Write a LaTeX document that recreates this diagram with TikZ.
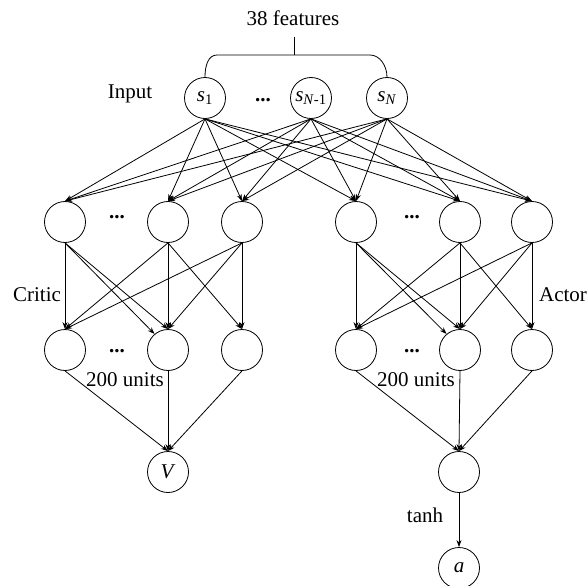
\documentclass[tikz,border=0pt]{standalone}
\usepackage{fontspec}
\setmainfont{Liberation Serif}
\usetikzlibrary{arrows.meta}
\begin{document}
\begin{tikzpicture}[x=1pt,y=-1pt,
  neuron/.style={circle,draw,line width=0.8pt,minimum size=41pt,inner sep=0pt,font=\fontsize{21}{25}\selectfont},
  lbl/.style={inner sep=0pt,font=\fontsize{21}{25}\selectfont},
  conn/.style={line width=0.8pt,-{Stealth[length=7pt,width=5pt]}},
  plain/.style={line width=0.8pt},
  ]
\useasboundingbox (0,0) rectangle (587,586);
% input layer
\node[neuron] (s1) at (205,98) {\textit{s}\textsubscript{1}};
\node[neuron] (sn1) at (311,98) {\textit{s}\textsubscript{\textit{N}-1}};
\node[neuron] (sn) at (387,98) {\textit{s}\textsubscript{\textit{N}}};
\node[lbl] (din) at (263,100) {\textbf{...}};
\node[lbl] (inlbl) at (130,94) {Input};
% brace
\node[lbl] (feat) at (293,18) {38 features};
\coordinate (bt) at (294,37);
\coordinate (bm) at (294,55);
\coordinate (bl) at (217,55);
\coordinate (br) at (370,55);
\draw[plain] (bt) -- (bm);
\draw[plain] (s1.north) .. controls (205,66) and (208,55) .. (bl) -- (br) .. controls (380,55) and (387,66) .. (sn.north);
% critic
\node[neuron] (ca1) at (65,222) {};
\node[neuron] (cb1) at (168,222) {};
\node[neuron] (cc1) at (242,222) {};
\node[neuron] (ca2) at (65,350) {};
\node[neuron] (cb2) at (168,350) {};
\node[neuron] (cc2) at (242,350) {};
\node[neuron] (v) at (168,472) {\textit{V}};
\node[lbl] (cd1) at (117,217) {\textbf{...}};
\node[lbl] (cd2) at (117,351) {\textbf{...}};
\node[lbl] (critic) at (37,295) {Critic};
\node[lbl] (cu) at (125,380) {200 units};
% actor
\node[neuron] (aa1) at (356,222) {};
\node[neuron] (ab1) at (460,222) {};
\node[neuron] (ac1) at (532,222) {};
\node[neuron] (aa2) at (356,350) {};
\node[neuron] (ab2) at (460,350) {};
\node[neuron] (ac2) at (532,350) {};
\node[neuron] (ao) at (459,472) {};
\node[neuron] (a) at (459,568) {\textit{a}};
\node[lbl] (ad1) at (412,217) {\textbf{...}};
\node[lbl] (ad2) at (412,351) {\textbf{...}};
\node[lbl] (actor) at (563,295) {Actor};
\node[lbl] (au) at (416,380) {200 units};
\node[lbl] (tanh) at (425,515) {tanh};
% input -> hidden 1
\foreach \i in {s1,sn1,sn}{
  \foreach \h in {ca1,cb1,cc1,aa1,ab1,ac1}{
    \draw[conn] (\i.south) -- (\h.north);
  }
}
% hidden1 -> hidden2
\foreach \p in {c,a}{
  \draw[conn] (\p a1.south) -- (\p a2.north);
  \draw[conn] (\p a1.south) -- (\p b2.north);
  \draw[conn] (\p a1.south) -- (\p b2.130);
  \draw[conn] (\p b1.south) -- (\p a2.north);
  \draw[conn] (\p b1.south) -- (\p b2.north);
  \draw[conn] (\p b1.south) -- (\p c2.north);
  \draw[conn] (\p c1.south) -- (\p a2.north);
  \draw[conn] (\p c1.south) -- (\p b2.north);
  \draw[conn] (\p c1.south) -- (\p c2.north);
}
% hidden2 -> outputs
\foreach \h in {ca2,cb2,cc2}{\draw[conn] (\h.south) -- (v.north);}
\foreach \h in {aa2,ab2,ac2}{\draw[conn] (\h.south) -- (ao.north);}
\draw[conn] (ao.south) -- (a.north);
\end{tikzpicture}
\end{document}
